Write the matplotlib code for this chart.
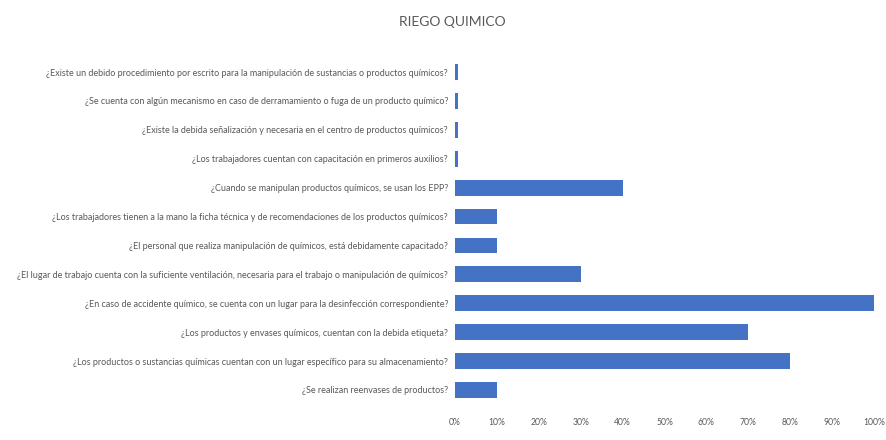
import matplotlib.pyplot as plt
from matplotlib.ticker import PercentFormatter

# preguntas de la encuesta, de arriba hacia abajo
preguntas = [
    '¿Existe un debido procedimiento por escrito para la manipulación de sustancias o productos químicos?',
    '¿Se cuenta con algún mecanismo en caso de derramamiento o fuga de un producto químico?',
    '¿Existe la debida señalización y necesaria en el centro de productos químicos?',
    '¿Los trabajadores cuentan con capacitación en primeros auxilios?',
    '¿Cuando se manipulan productos químicos, se usan los EPP?',
    '¿Los trabajadores tienen a la mano la ficha técnica y de recomendaciones de los productos químicos?',
    '¿El personal que realiza manipulación de químicos, está debidamente capacitado?',
    '¿El lugar de trabajo cuenta con la suficiente ventilación, necesaria para el trabajo o manipulación de químicos?',
    '¿En caso de accidente químico, se cuenta con un lugar para la desinfección correspondiente?',
    '¿Los productos y envases químicos, cuentan con la debida etiqueta?',
    '¿Los productos o sustancias químicas cuentan con un lugar específico para su almacenamiento?',
    '¿Se realizan reenvases de productos?',
]
porcentajes = [0.8, 0.8, 0.8, 0.8, 40, 10, 10, 30, 100, 70, 80, 10]
ticks = [0, 10, 20, 30, 40, 50, 60, 70, 80, 90, 100]

gris = '#595959'
azul = '#4472C4'

fig = plt.figure(figsize=(8.86, 4.4), dpi=100)
ax = fig.add_axes([0.5135, 0.081, 0.473, 0.788])

y = list(range(len(preguntas)))
ax.barh(y, porcentajes, height=0.55, color=azul)
ax.set_ylim(len(preguntas) - 0.5, -0.5)
ax.set_xlim(0, 100)

ax.set_yticks(y)
ax.set_yticklabels(preguntas, fontsize=6.5, color=gris, family='Lato')
ax.set_xticks(ticks)
ax.xaxis.set_major_formatter(PercentFormatter(decimals=0))
for lbl in ax.get_xticklabels():
    lbl.set_fontsize(6.2)
    lbl.set_color(gris)
    lbl.set_family('Lato')

ax.tick_params(axis='y', length=0, pad=5)
ax.tick_params(axis='x', length=0, pad=10)
for s in ax.spines.values():
    s.set_visible(False)

fig.text(0.51, 0.95, 'RIEGO QUIMICO', ha='center', va='center',
         fontsize=10, color=gris, family='Lato')

fig.savefig('out.png', dpi=100)
